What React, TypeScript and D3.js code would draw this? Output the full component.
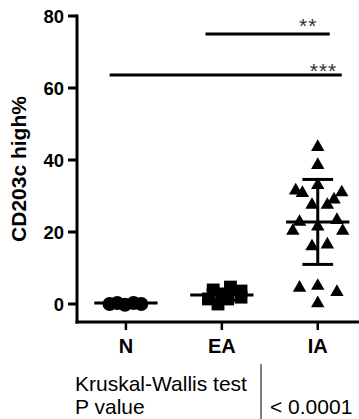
import React from "react";
import * as d3 from "d3";

// ---------- data ----------
const categories = ["N", "EA", "IA"];
const yTicks = [0, 20, 40, 60, 80];

// N group (circles): values and horizontal spread (in category units)
const nValues = [0.0, 0.3, -0.2, 0.3, 0.0];
const nSpread = [-0.17, -0.09, -0.01, 0.08, 0.16];

// EA group (squares)
const eaValues = [3.9, 4.7, 3.6, 1.9, 1.4, 0.0, 1.4, 2.8];
const eaSpread = [-0.09, 0.09, 0.2, 0.2, -0.14, -0.04, 0.06, 0.0];

// IA group (triangles)
const iaValues = [
  43.6, 38.6, 33.0, 31.5, 30.8, 31.0, 27.5, 27.5, 29.0, 22.8, 20.3, 21.5, 23.3,
  20.3, 16.0, 16.5, 4.5, 5.0, 3.3, 0.2,
];
const iaSpread = [
  0, 0, 0, -0.23, -0.16, 0.25, -0.06, 0.1, 0.17, -0.19, -0.26, 0, 0.2, 0.26,
  -0.06, 0.1, -0.19, 0, 0.2, 0,
];

const groupMeans = [0.3, 2.5, 22.8];
const groupSD = [0.2, 1.4, 11.8];

const bracketFrom = [0.83, -0.17];
const bracketTo = [2.125, 2.25];
const bracketValue = [75.0, 63.6];
const bracketLabel = ["**", "***"];
const bracketLabelAt = [1.9, 2.06];
const bracketLabelValue = [75.4, 62.8];

const testTitle = "Kruskal-Wallis test";
const testRowLabel = "P value";
const testRowValue = "< 0.0001";

// ---------- component ----------
const W = 359;
const H = 419;
const FONT = "'Liberation Sans', Arial, Helvetica, sans-serif";

export default function App() {
  const x = d3.scaleLinear().domain([-0.51, 2.43]).range([77, 359]);
  const y = d3.scaleLinear().domain([-5, 80]).range([322, 16]);

  const circle = d3.symbol().type(d3.symbolCircle).size(155)() as string;
  const square = d3.symbol().type(d3.symbolSquare).size(165)() as string;
  const triangle = d3.symbol().type(d3.symbolTriangle).size(78)() as string;

  const groups = [
    { values: nValues, spread: nSpread, path: circle },
    { values: eaValues, spread: eaSpread, path: square },
    { values: iaValues, spread: iaSpread, path: triangle },
  ];

  const halfMean = 0.33;
  const halfCap = 0.16;
  const axisX = x(-0.51);
  const axisY = y(-5);

  return (
    <svg
      width={W}
      height={H}
      viewBox={`0 0 ${W} ${H}`}
      style={{ position: "absolute", left: 0, top: 0, background: "#fff" }}
      fontFamily={FONT}
    >
      <rect x={0} y={0} width={W} height={H} fill="#fff" />

      {/* axes */}
      <line x1={axisX} x2={axisX} y1={y(80)} y2={axisY} stroke="#000" strokeWidth={3} strokeLinecap="square" />
      <line x1={axisX} x2={W} y1={axisY} y2={axisY} stroke="#000" strokeWidth={3} strokeLinecap="square" />

      {yTicks.map((t) => (
        <g key={t}>
          <line x1={axisX - 9} x2={axisX} y1={y(t)} y2={y(t)} stroke="#000" strokeWidth={3} />
          <text
            x={axisX - 13}
            y={y(t)}
            dy="0.36em"
            textAnchor="end"
            fontSize={18.5}
            fontWeight="bold"
          >
            {t}
          </text>
        </g>
      ))}

      {categories.map((c, i) => (
        <g key={c}>
          <line x1={x(i)} x2={x(i)} y1={axisY} y2={axisY + 8} stroke="#000" strokeWidth={2.5} />
          <text x={x(i)} y={353} textAnchor="middle" fontSize={20} fontWeight="bold">
            {c}
          </text>
        </g>
      ))}

      <text
        transform={`translate(26,${(y(80) + axisY) / 2}) rotate(-90)`}
        textAnchor="middle"
        fontSize={21}
        fontWeight="bold"
      >
        CD203c high%
      </text>

      {/* points */}
      {groups.map((g, gi) =>
        g.values.map((v, k) => (
          <path
            key={`${gi}-${k}`}
            d={g.path}
            transform={`translate(${x(gi + g.spread[k])},${y(v)})`}
            fill="#000"
          />
        ))
      )}

      {/* mean and SD */}
      {groupMeans.map((m, i) => (
        <g key={`m${i}`} stroke="#000" strokeWidth={3}>
          <line x1={x(i - halfMean)} x2={x(i + halfMean)} y1={y(m)} y2={y(m)} />
          <line x1={x(i)} x2={x(i)} y1={y(m + groupSD[i])} y2={y(m - groupSD[i])} />
          <line x1={x(i - halfCap)} x2={x(i + halfCap)} y1={y(m + groupSD[i])} y2={y(m + groupSD[i])} />
          <line x1={x(i - halfCap)} x2={x(i + halfCap)} y1={y(m - groupSD[i])} y2={y(m - groupSD[i])} />
        </g>
      ))}

      {/* significance brackets */}
      {bracketValue.map((v, i) => (
        <g key={`b${i}`}>
          <line x1={x(bracketFrom[i])} x2={x(bracketTo[i])} y1={y(v)} y2={y(v)} stroke="#000" strokeWidth={3} />
          <text
            x={x(bracketLabelAt[i])}
            y={y(bracketLabelValue[i])}
            textAnchor="middle"
            fontSize={21}
            letterSpacing={1}
            fill="#333"
          >
            {bracketLabel[i]}
          </text>
        </g>
      ))}

      {/* test table */}
      <text x={75} y={391} fontSize={21}>
        {testTitle}
      </text>
      <text x={75} y={414} fontSize={21}>
        {testRowLabel}
      </text>
      <line x1={261} x2={261} y1={364} y2={H} stroke="#000" strokeWidth={1} />
      <text x={270} y={414} fontSize={21}>
        {testRowValue}
      </text>
    </svg>
  );
}
